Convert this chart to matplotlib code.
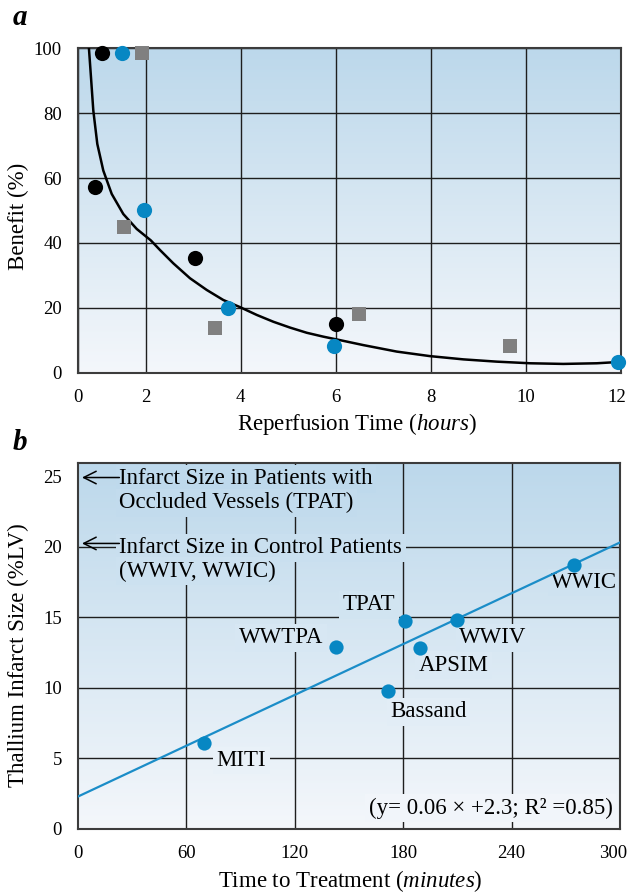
import numpy as np
import matplotlib
matplotlib.use('Agg')
import matplotlib.pyplot as plt
from matplotlib.colors import LinearSegmentedColormap, to_rgb
from matplotlib.transforms import ScaledTranslation

plt.rcParams['font.family'] = ['Liberation Serif', 'DejaVu Serif']
plt.rcParams['mathtext.fontset'] = 'custom'
plt.rcParams['mathtext.rm'] = 'Liberation Serif'
plt.rcParams['mathtext.it'] = 'Liberation Serif:italic'

# ---- panel a : benefit vs reperfusion time ----
black_x = [1.08, 0.94, 3.05, 6.0]
black_y = [98.6, 57.1, 35.3, 15.0]
blue_x = [1.51, 1.97, 3.74, 5.97, 11.93]
blue_y = [98.6, 50.0, 20.0, 8.3, 3.2]
gray_x = [1.93, 1.54, 3.47, 6.48, 9.66]
gray_y = [98.6, 44.8, 13.8, 18.0, 8.1]

# fitted curve
curve_x = [0.81, 0.853, 0.902, 0.986, 1.112, 1.289, 1.533, 1.815, 2.11,
           2.305, 2.585, 2.936, 3.287, 3.636, 3.988, 4.339, 4.688, 5.039,
           5.391, 5.740, 6.10, 6.581, 7.284, 7.984, 8.685, 9.387, 10.088,
           10.788, 11.491, 11.84]
curve_y = [100, 91.1, 80.8, 70.5, 62.3, 55.1, 48.9, 44.3, 40.8,
           37.8, 33.7, 29.1, 25.5, 22.4, 20.2, 17.8, 15.7, 13.9,
           12.3, 11.1, 10.0, 8.5, 6.5, 5.1, 4.1, 3.4, 2.9,
           2.7, 2.9, 3.2]

a_xticks = [0.58, 2, 4, 6, 8, 10, 12]
a_xlabels = ['0', '2', '4', '6', '8', '10', '12']
a_yticks = [0, 20, 40, 60, 80, 100]

# ---- panel b : infarct size vs time to treatment ----
studies = ['MITI', 'WWTPA', 'Bassand', 'TPAT', 'APSIM', 'WWIV', 'WWIC']
minutes = [70, 142.7, 171.6, 181.1, 189.1, 209.8, 274.4]
infarct = [6.1, 12.9, 9.8, 14.7, 12.8, 14.8, 18.7]
fit_slope, fit_icept = 0.06, 2.3

b_xticks = [0, 60, 120, 180, 240, 300]
b_yticks = [0, 5, 10, 15, 20, 25]

# label placement (x, baseline y, ha)
lab_pos = {
    'MITI': (76.8, 4.46, 'left'),
    'WWTPA': (112.4, 13.15, 'center'),
    'Bassand': (194.0, 7.91, 'center'),
    'TPAT': (161.1, 15.51, 'center'),
    'APSIM': (207.7, 11.21, 'center'),
    'WWIV': (229.7, 13.15, 'center'),
    'WWIC': (280.2, 17.07, 'center'),
}

top_c = np.array(to_rgb('#bcd8eb'))
bot_c = np.array(to_rgb('#f4f7fb'))
grid_c = '#1e1e1e'
spine_c = '#3c3c3c'
blue = '#0787c3'


def bg_at(f):
    f = min(max(f, 0), 1)
    return tuple(bot_c + (top_c - bot_c) * f)


def add_gradient(ax):
    g = np.linspace(0, 1, 256).reshape(-1, 1)
    cmap = LinearSegmentedColormap.from_list('bg', [bot_c, top_c])
    ax.imshow(g, extent=[0, 1, 0, 1], transform=ax.transAxes, origin='lower',
              aspect='auto', cmap=cmap, zorder=0)


def style_axes(ax):
    for s in ax.spines.values():
        s.set_color(spine_c)
        s.set_linewidth(1.5)
    ax.tick_params(length=0, labelsize=13.5)


def nudge_last_xlabel(ax, px):
    lab = ax.get_xticklabels()[-1]
    lab.set_transform(lab.get_transform() + ScaledTranslation(-px / 100, 0, fig.dpi_scale_trans))


fig = plt.figure(figsize=(6.29, 8.92), dpi=100)

# ================= panel a =================
ax1 = fig.add_axes([0.124, 0.5822, 0.8633, 0.3637])
add_gradient(ax1)
ax1.set_xlim(0.58, 12)
ax1.set_ylim(0, 100)
ax1.set_xticks(a_xticks)
ax1.set_xticklabels(a_xlabels)
ax1.set_yticks(a_yticks)
ax1.set_axisbelow(True)
ax1.grid(True, color=grid_c, lw=1.0)
style_axes(ax1)
ax1.tick_params(axis='x', pad=12)
ax1.tick_params(axis='y', pad=11.5)
nudge_last_xlabel(ax1, 4)

ax1.plot(curve_x, curve_y, color='black', lw=1.8, zorder=3, solid_joinstyle='round')
ax1.scatter(black_x, black_y, s=120, color='black', zorder=4, clip_on=False, lw=0)
ax1.scatter(blue_x, blue_y, s=120, color=blue, zorder=4, clip_on=False, lw=0)
ax1.scatter(gray_x, gray_y, s=95, color='#808080', marker='s', zorder=4, clip_on=False, lw=0)

ax1.set_xlabel(r'Reperfusion Time ($\mathit{hours}$)', fontsize=16.5, va='baseline')
ax1.xaxis.set_label_coords(0.514, -0.1754)
ax1.set_ylabel('Benefit (%)', fontsize=16.5, va='center')
ax1.yaxis.set_label_coords(-0.11, 0.483)
fig.text(12.7 / 629, 1 - 25 / 892, 'a', fontsize=21, fontweight='bold',
         fontstyle='italic', va='baseline')

# ================= panel b =================
ax2 = fig.add_axes([0.124, 0.07063, 0.8617, 0.41065])
add_gradient(ax2)
ax2.set_xlim(0, 300)
ax2.set_ylim(0, 25.95)
ax2.set_xticks(b_xticks)
ax2.set_yticks(b_yticks)
style_axes(ax2)
ax2.tick_params(axis='x', pad=11.5)
ax2.tick_params(axis='y', pad=11.5)
nudge_last_xlabel(ax2, 7)
for v in b_yticks[1:-1]:
    ax2.axhline(v, color=grid_c, lw=1.0, zorder=1)
for v in b_xticks[1:-1]:
    ax2.axvline(v, color=grid_c, lw=1.0, zorder=1)

ymax = ax2.get_ylim()[1]


def box_text(x, y, s, ha='center', size=16.5):
    ax2.text(x, y, s, ha=ha, va='baseline', fontsize=size, zorder=2.5,
             bbox=dict(boxstyle='square,pad=0.15', fc=bg_at(y / ymax + 0.02), ec='none'))


tx = np.array([0, 300])
ax2.plot(tx, fit_slope * tx + fit_icept, color='#1b8dc8', lw=1.6, zorder=3)
ax2.scatter(minutes, infarct, s=105, color=blue, zorder=4, lw=0, clip_on=False)

for name in studies:
    x, y, ha = lab_pos[name]
    box_text(x, y, name, ha=ha)

box_text(22.9, 24.43, 'Infarct Size in Patients with', ha='left')
box_text(22.9, 22.71, 'Occluded Vessels (TPAT)', ha='left')
box_text(22.9, 19.53, 'Infarct Size in Control Patients', ha='left')
box_text(22.9, 17.87, '(WWIV, WWIC)', ha='left')
box_text(228.3, 1.06, '(y= 0.06 \u00d7 +2.3; R\u00b2 =0.85)')

for ya in [24.9, 20.23]:
    ax2.annotate('', xy=(2.2, ya), xytext=(22.9, ya), zorder=5,
                 arrowprops=dict(arrowstyle='->,head_length=0.9,head_width=0.45',
                                 lw=1.1, color='black', shrinkA=0, shrinkB=0))

ax2.set_xlabel(r'Time to Treatment ($\mathit{minutes}$)', fontsize=16.5, va='baseline')
ax2.xaxis.set_label_coords(0.502, -0.1575)
ax2.set_ylabel('Thallium Infarct Size (%LV)', fontsize=16.5, va='center')
ax2.yaxis.set_label_coords(-0.11, 0.475)
fig.text(12.7 / 629, 1 - 450 / 892, 'b', fontsize=21, fontweight='bold',
         fontstyle='italic', va='baseline')

fig.savefig('out.png', dpi=100)
